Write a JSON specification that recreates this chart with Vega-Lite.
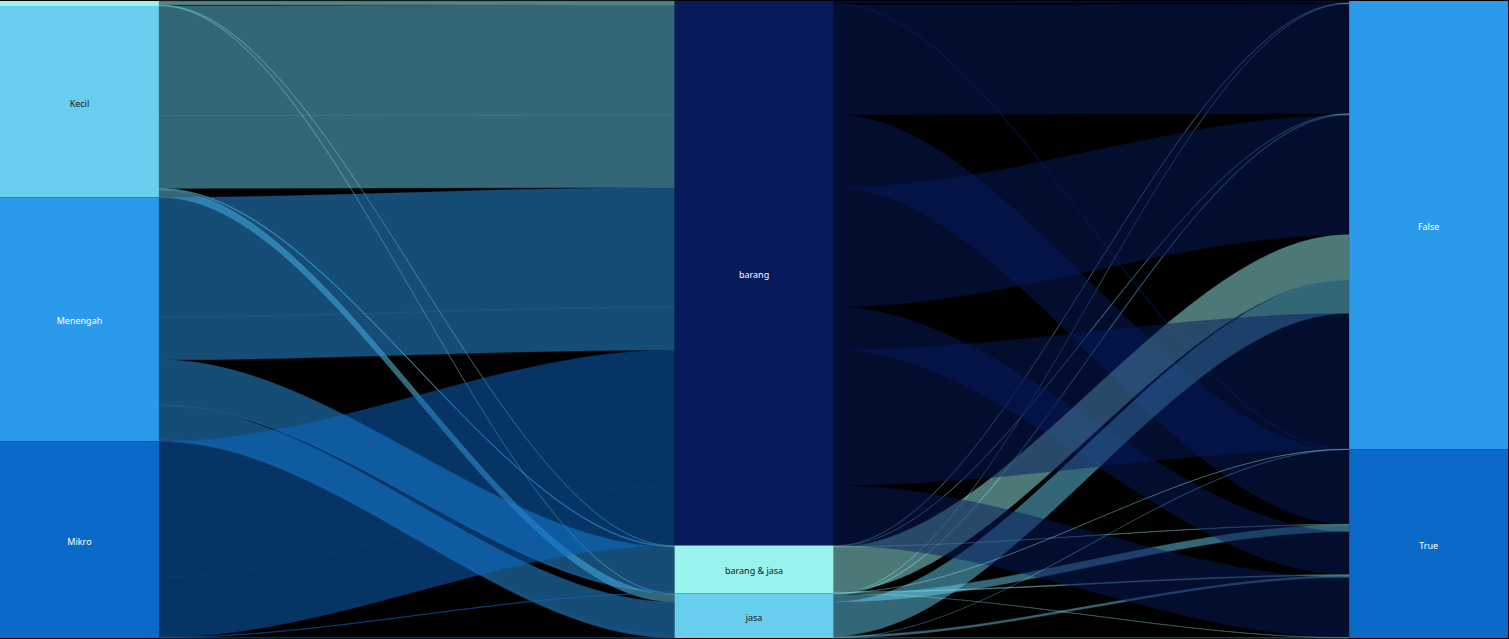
{
  "$schema": "https://vega.github.io/schema/vega-lite/v6.json",
  "width": 1509,
  "height": 639,
  "autosize": {"type": "fit", "contains": "padding"},
  "padding": 0,
  "background": "#000000",
  "config": {"view": {"stroke": null}},
  "datasets": {
    "paths": [
      {"size": "Besar", "type": "barang", "flag": "False", "n": 2.0},
      {"size": "Besar", "type": "barang", "flag": "True", "n": 2.0},
      {"size": "Besar", "type": "barang & jasa", "flag": "False", "n": 0.5},
      {"size": "Besar", "type": "jasa", "flag": "False", "n": 0.5},
      {"size": "Kecil", "type": "barang", "flag": "False", "n": 110},
      {"size": "Kecil", "type": "barang", "flag": "True", "n": 73},
      {"size": "Kecil", "type": "barang & jasa", "flag": "False", "n": 0.5},
      {"size": "Kecil", "type": "barang & jasa", "flag": "True", "n": 0.5},
      {"size": "Kecil", "type": "jasa", "flag": "False", "n": 1},
      {"size": "Kecil", "type": "jasa", "flag": "True", "n": 7},
      {"size": "Menengah", "type": "barang", "flag": "False", "n": 120},
      {"size": "Menengah", "type": "barang", "flag": "True", "n": 43},
      {"size": "Menengah", "type": "barang & jasa", "flag": "False", "n": 45},
      {"size": "Menengah", "type": "barang & jasa", "flag": "True", "n": 1},
      {"size": "Menengah", "type": "jasa", "flag": "False", "n": 34},
      {"size": "Menengah", "type": "jasa", "flag": "True", "n": 2},
      {"size": "Mikro", "type": "barang", "flag": "False", "n": 136},
      {"size": "Mikro", "type": "barang", "flag": "True", "n": 60.2},
      {"size": "Mikro", "type": "barang & jasa", "flag": "False", "n": 0.3},
      {"size": "Mikro", "type": "barang & jasa", "flag": "True", "n": 0.2},
      {"size": "Mikro", "type": "jasa", "flag": "False", "n": 0.1},
      {"size": "Mikro", "type": "jasa", "flag": "True", "n": 0.2}
    ]
  },
  "data": {"name": "paths"},
  "layer": [
    {
      "transform": [
        {"window": [{"op": "sum", "field": "n", "as": "a1"}], "sort": [{"field": "size"}, {"field": "type"}, {"field": "flag"}], "frame": [null, 0]},
        {"window": [{"op": "sum", "field": "n", "as": "b1"}], "sort": [{"field": "type"}, {"field": "size"}, {"field": "flag"}], "frame": [null, 0]},
        {"window": [{"op": "sum", "field": "n", "as": "c1"}], "sort": [{"field": "flag"}, {"field": "size"}, {"field": "type"}], "frame": [null, 0]},
        {"fold": ["L0", "L1", "L2", "L3", "R0", "R1", "R2", "R3"], "as": ["key", "val"]},
        {"calculate": "substring(datum.key, 0, 1)", "as": "g"},
        {"calculate": "datum.key=='L0' ? 0.2356 : datum.key=='L1' ? 0.2386 : datum.key=='L2' ? 0.997 : datum.key=='L3' ? 1 : datum.key=='R0' ? 1.2356 : datum.key=='R1' ? 1.2386 : datum.key=='R2' ? 1.997 : 2", "as": "xp"},
        {"calculate": "(datum.key=='L0'||datum.key=='L1') ? datum.a1 : (datum.key=='R2'||datum.key=='R3') ? datum.c1 : datum.b1", "as": "yb"},
        {"calculate": "datum.yb - datum.n", "as": "yt"},
        {"calculate": "datum.g=='L' ? datum.size : datum.type", "as": "src"},
        {"calculate": "datum.g + '|' + datum.size + '|' + datum.type + '|' + datum.flag", "as": "lid"}
      ],
      "mark": {"type": "area", "interpolate": "monotone", "opacity": 0.5, "strokeWidth": 0.4},
      "encoding": {
        "x": {"field": "xp", "type": "quantitative", "axis": null, "scale": {"domain": [0, 2.234], "nice": false, "zero": false}},
        "y": {"field": "yt", "type": "quantitative", "axis": null, "stack": null, "scale": {"domain": [0, 638], "reverse": true, "nice": false, "zero": false}},
        "y2": {"field": "yb"},
        "detail": {"field": "lid"},
        "color": {
          "field": "src", "type": "nominal", "legend": null,
          "scale": {
            "domain": ["Besar", "Kecil", "Menengah", "Mikro", "barang", "barang & jasa", "jasa", "False", "True"],
            "range": ["#98F2EE", "#67CEEE", "#2B9AEB", "#0A69C9", "#061A5C", "#98F2EE", "#67CEEE", "#2B9AEB", "#0A69C9"]
          }
        },
        "stroke": {
          "field": "src", "type": "nominal", "legend": null,
          "scale": {
            "domain": ["Besar", "Kecil", "Menengah", "Mikro", "barang", "barang & jasa", "jasa", "False", "True"],
            "range": ["#98F2EE", "#67CEEE", "#2B9AEB", "#0A69C9", "#061A5C", "#98F2EE", "#67CEEE", "#2B9AEB", "#0A69C9"]
          }
        }
      }
    },
    {
      "transform": [
        {"fold": ["size", "type", "flag"], "as": ["col", "node"]},
        {"aggregate": [{"op": "sum", "field": "n", "as": "tot"}], "groupby": ["col", "node"]},
        {"stack": "tot", "groupby": ["col"], "sort": [{"field": "node", "order": "ascending"}], "as": ["y0", "y1"]},
        {"calculate": "datum.col=='size' ? 0 : datum.col=='type' ? 1 : 2", "as": "cx"},
        {"calculate": "datum.cx + 0.2356", "as": "cx2"}
      ],
      "mark": {"type": "rect"},
      "encoding": {
        "x": {"field": "cx", "type": "quantitative", "axis": null, "scale": {"domain": [0, 2.234], "nice": false, "zero": false}},
        "x2": {"field": "cx2"},
        "y": {"field": "y0", "type": "quantitative", "axis": null, "scale": {"domain": [0, 638], "reverse": true, "nice": false, "zero": false}},
        "y2": {"field": "y1"},
        "color": {"field": "node", "type": "nominal", "legend": null}
      }
    },
    {
      "transform": [
        {"fold": ["size", "type", "flag"], "as": ["col", "node"]},
        {"aggregate": [{"op": "sum", "field": "n", "as": "tot"}], "groupby": ["col", "node"]},
        {"stack": "tot", "groupby": ["col"], "sort": [{"field": "node", "order": "ascending"}], "as": ["y0", "y1"]},
        {"filter": "datum.tot > 20"},
        {"calculate": "(datum.col=='size' ? 0 : datum.col=='type' ? 1 : 2) + 0.1178", "as": "xm"},
        {"calculate": "(datum.y0 + datum.y1) / 2", "as": "ym"}
      ],
      "mark": {"type": "text", "font": "Noto Sans", "fontSize": 9, "align": "center", "baseline": "middle", "dy": 2},
      "encoding": {
        "x": {"field": "xm", "type": "quantitative", "axis": null, "scale": {"domain": [0, 2.234], "nice": false, "zero": false}},
        "y": {"field": "ym", "type": "quantitative", "axis": null, "scale": {"domain": [0, 638], "reverse": true, "nice": false, "zero": false}},
        "text": {"field": "node"},
        "color": {
          "condition": {"test": "indexof(['Kecil', 'barang & jasa', 'jasa'], datum.node) >= 0", "value": "#1a1a1a"},
          "value": "#ffffff"
        }
      }
    }
  ]
}
